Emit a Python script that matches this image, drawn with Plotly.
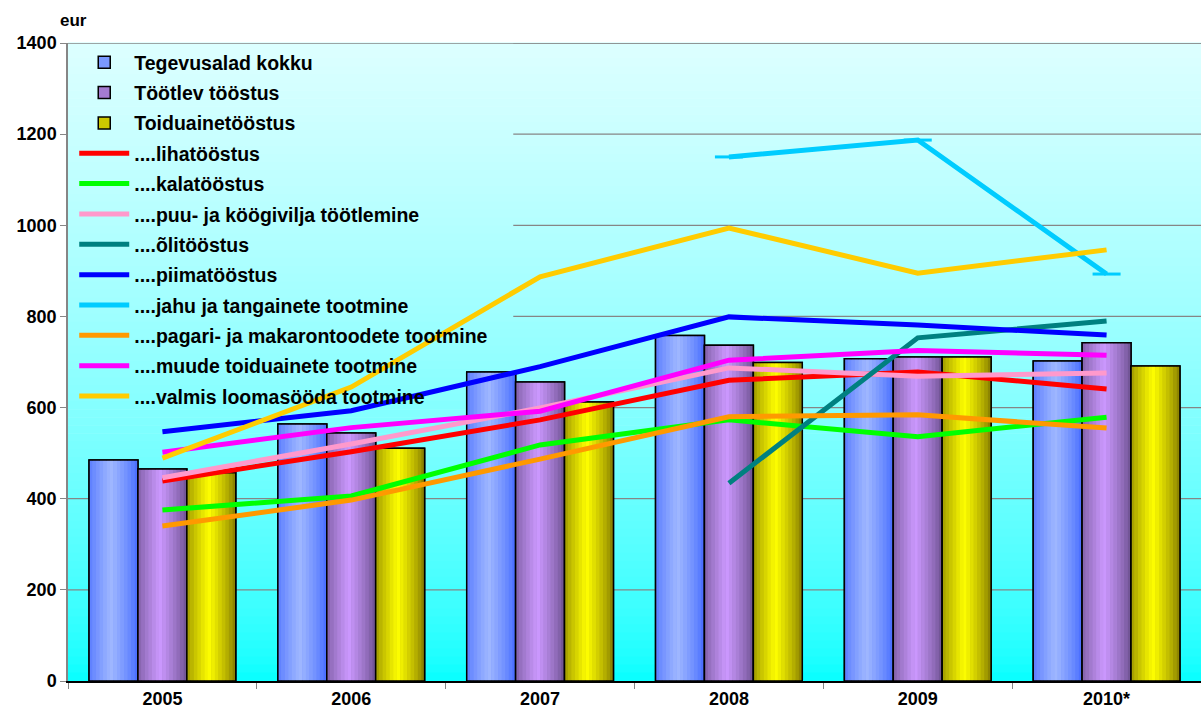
import plotly.graph_objects as go

# categories and values
years = ['2005', '2006', '2007', '2008', '2009', '2010*']
y_ticks = [0, 200, 400, 600, 800, 1000, 1200, 1400]

tegevusalad = [485, 564, 678, 758, 707, 702]
tootlev = [465, 544, 656, 737, 711, 742]
toiduaine = [457, 511, 612, 699, 711, 691]

liha = [439, 503, 573, 660, 678, 641]
kala = [375, 406, 518, 573, 536, 579]
puu = [446, 520, 599, 687, 669, 676]
oli = [None, None, None, 434, 753, 790]
piim = [547, 593, 690, 799, 781, 759]
jahu = [None, None, None, 1150, 1187, 893]
pagari = [340, 397, 487, 580, 584, 555]
muude = [502, 556, 592, 704, 725, 715]
valmis = [489, 645, 887, 994, 895, 946]

FONT = "Arial, Liberation Sans, sans-serif"


def mix(c1, c2, t):
    return 'rgb(%d,%d,%d)' % tuple(round(a + (b - a) * t) for a, b in zip(c1, c2))


bar_series = [
    ("Tegevusalad kokku", tegevusalad, (66, 104, 255), (160, 184, 255)),
    ("Töötlev tööstus", tootlev, (104, 78, 138), (204, 153, 255)),
    ("Toiduainetööstus", toiduaine, (128, 118, 0), (255, 255, 0)),
]
line_series = [
    ("....lihatööstus", liha, "#FF0000"),
    ("....kalatööstus", kala, "#00FF00"),
    ("....puu- ja köögivilja töötlemine", puu, "#FF99CC"),
    ("....õlitööstus", oli, "#008080"),
    ("....piimatööstus", piim, "#0000FF"),
    ("....jahu ja tangainete tootmine", jahu, "#00CCFF"),
    ("....pagari- ja makarontoodete tootmine", pagari, "#FF9900"),
    ("....muude toiduainete tootmine", muude, "#FF00FF"),
    ("....valmis loomasööda tootmine", valmis, "#FFCC00"),
]

fig = go.Figure()

bw = 0.259          # one bar, in category units
n_slices = 14       # slices used to fake the cylinder gradient
for k, (name, vals, edge, centre) in enumerate(bar_series):
    off = -1.5 * bw + k * bw
    # legend entry (covered by the slices)
    fig.add_trace(go.Bar(x=years, y=vals, name=name, width=bw, offset=off,
                         marker=dict(color=mix(edge, centre, 0.6), line=dict(color='black', width=1.5)),
                         legendgroup=name, hoverinfo='skip'))
    sw = bw / n_slices
    for i in range(n_slices):
        t = (i + 0.5) / n_slices
        f = 1 - abs(t - 0.45) / 0.55
        fig.add_trace(go.Bar(x=years, y=vals, width=sw * 1.05, offset=off + i * sw,
                             marker=dict(color=mix(edge, centre, max(f, 0) ** 0.8), line=dict(width=0)),
                             showlegend=False, hoverinfo='skip'))
    fig.add_trace(go.Bar(x=years, y=vals, width=bw, offset=off, showlegend=False,
                         marker=dict(color='rgba(0,0,0,0)', line=dict(color='black', width=1.5)),
                         hoverinfo='skip'))

for name, vals, color in line_series:
    tr = dict(x=years, y=vals, name=name, mode='lines', legendgroup=name,
              line=dict(color=color, width=5))
    if name.startswith('....jahu'):
        tr['mode'] = 'lines+markers'
        tr['marker'] = dict(symbol='line-ew', size=20, color=color,
                            line=dict(color=color, width=3))
    fig.add_trace(go.Scatter(**tr))

# plot area gradient, white-cyan at top to cyan at bottom
shapes = []
n = 80
for i in range(n):
    f = (i + 0.5) / n          # 0 top -> 1 bottom
    r = round(221 * (1 - f) ** 0.6)
    shapes.append(dict(type='rect', xref='paper', yref='paper', layer='below',
                       x0=0, x1=1, y0=1 - (i + 1) / n, y1=1 - i / n + 0.001,
                       fillcolor='rgb(%d,255,255)' % r, line=dict(width=0)))
# gridlines, hidden behind the legend box
for v in y_ticks[1:]:
    shapes.append(dict(type='line', xref='paper', yref='y', layer='below',
                       x0=0 if v < 600 else 0.393, x1=1, y0=v, y1=v,
                       line=dict(color='#868686', width=1.2)))
shapes.append(dict(type='line', xref='paper', yref='y', x0=0, x1=1,
                   y0=y_ticks[-1], y1=y_ticks[-1], line=dict(color='#868686', width=1.5)))

fig.update_layout(
    width=1201, height=718,
    margin=dict(l=68, r=0, t=43, b=37),
    paper_bgcolor='white', plot_bgcolor='rgba(0,0,0,0)',
    barmode='overlay',
    font=dict(family=FONT, size=16, color='black'),
    shapes=shapes,
    showlegend=True,
    legend=dict(x=0.0055, y=1.0, xanchor='left', yanchor='top', maxheight=650,
                bgcolor='rgba(0,0,0,0)', traceorder='grouped', tracegroupgap=2,
                itemwidth=50, font=dict(family=FONT, size=19.5, weight='bold')),
    annotations=[dict(text='eur', xref='paper', yref='paper', x=0.005, y=1.035,
                      xanchor='center', yanchor='middle', showarrow=False,
                      font=dict(family=FONT, size=17, weight='bold'))],
)
fig.update_xaxes(type='category', range=[-0.5, 5.5], tickson='boundaries',
                 ticks='outside', ticklen=6, tickcolor='#868686',
                 showline=True, linecolor='black', linewidth=2, showgrid=False,
                 tickfont=dict(family=FONT, size=18, weight='bold'))
fig.update_yaxes(range=[0, 1400], tickvals=y_ticks, ticks='outside', ticklen=6,
                 tickcolor='#868686', showline=True, linecolor='#868686', linewidth=1.5,
                 showgrid=False, zeroline=False,
                 tickfont=dict(family=FONT, size=18, weight='bold'))

fig.write_html("out.html", config={'displayModeBar': False})

# drop the default page margin so the chart sits at the window origin
with open("out.html") as f:
    html = f.read()
html = html.replace("<body>", '<body style="margin:0">', 1)
with open("out.html", "w") as f:
    f.write(html)
